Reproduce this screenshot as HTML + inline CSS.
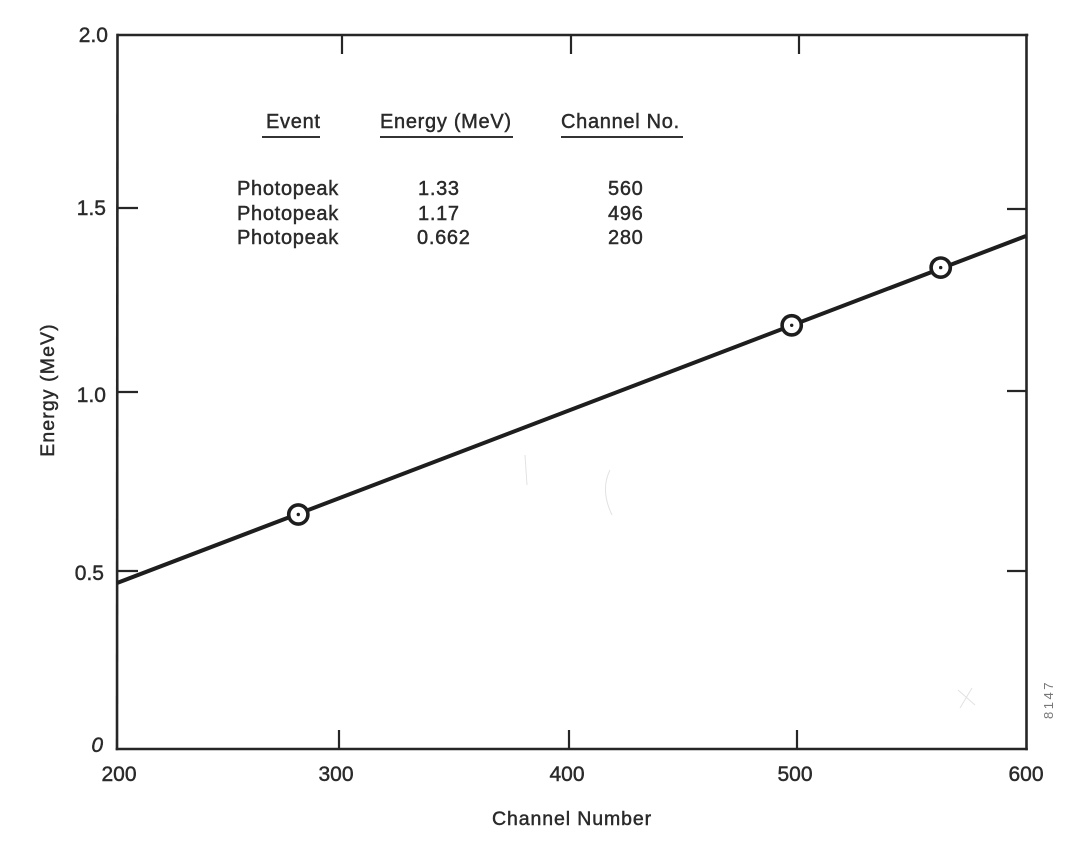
<!DOCTYPE html>
<html>
<head>
<meta charset="utf-8">
<style>
  html, body { margin: 0; padding: 0; background: #ffffff; }
  svg { display: block; }
  text { font-family: "Liberation Sans", "DejaVu Sans", sans-serif; fill: #2a2a2a; stroke: #2a2a2a; stroke-width: 0.45px; }
</style>
</head>
<body>
<svg width="1090" height="841" viewBox="0 0 1090 841" xmlns="http://www.w3.org/2000/svg">
  <rect x="0" y="0" width="1090" height="841" fill="#ffffff"/>

  <!-- Frame -->
  <g stroke="#262626" stroke-width="2.6" fill="none" stroke-linecap="square">
    <line x1="118" y1="35" x2="1027" y2="35"/>
    <line x1="1026.5" y1="35" x2="1026.5" y2="749"/>
    <line x1="117" y1="749" x2="1026.5" y2="749"/>
    <line x1="117.5" y1="35" x2="117" y2="749"/>
  </g>

  <!-- Ticks -->
  <g stroke="#262626" stroke-width="2.2" fill="none">
    <line x1="342" y1="35" x2="342" y2="54"/>
    <line x1="571" y1="35" x2="571" y2="54"/>
    <line x1="799" y1="35" x2="799" y2="54"/>
    <line x1="339" y1="749" x2="339" y2="730"/>
    <line x1="569" y1="749" x2="569" y2="730"/>
    <line x1="797" y1="749" x2="797" y2="730"/>
    <line x1="117" y1="208" x2="138" y2="208"/>
    <line x1="117" y1="392" x2="138" y2="392"/>
    <line x1="117" y1="571" x2="138" y2="571"/>
    <line x1="1026" y1="209" x2="1007" y2="209"/>
    <line x1="1026" y1="391" x2="1007" y2="391"/>
    <line x1="1026" y1="571" x2="1007" y2="571"/>
  </g>

  <!-- Fit line -->
  <line x1="117" y1="583" x2="1026" y2="236" stroke="#1e1e1e" stroke-width="4"/>

  <!-- Data points -->
  <g stroke="#1e1e1e" stroke-width="3.6" fill="#ffffff">
    <circle cx="298.3" cy="514.5" r="9.6"/>
    <circle cx="791.7" cy="325.3" r="9.6"/>
    <circle cx="940.7" cy="267.6" r="9.6"/>
  </g>
  <g fill="#1e1e1e">
    <circle cx="298.3" cy="514.5" r="1.7"/>
    <circle cx="791.7" cy="325.3" r="1.7"/>
    <circle cx="940.7" cy="267.6" r="1.7"/>
  </g>

  <!-- Y tick labels -->
  <g font-size="21" text-anchor="end">
    <text x="108" y="42">2.0</text>
    <text x="106" y="215">1.5</text>
    <text x="106" y="402">1.0</text>
    <text x="104" y="580">0.5</text>
    <text x="103" y="752" font-style="italic">0</text>
  </g>

  <!-- X tick labels -->
  <g font-size="21" text-anchor="middle">
    <text x="119" y="781">200</text>
    <text x="336" y="781">300</text>
    <text x="567" y="781">400</text>
    <text x="795" y="781">500</text>
    <text x="1026" y="781">600</text>
  </g>

  <!-- Axis titles -->
  <text x="572" y="825" font-size="19.5" text-anchor="middle" letter-spacing="0.9">Channel Number</text>
  <text transform="translate(54,390) rotate(-90)" font-size="19.5" text-anchor="middle" letter-spacing="1.1">Energy (MeV)</text>

  <!-- Table -->
  <g font-size="20" letter-spacing="0.7">
    <text x="266" y="128">Event</text>
    <text x="380" y="128">Energy (MeV)</text>
    <text x="561" y="128">Channel No.</text>

    <text x="237" y="195">Photopeak</text>
    <text x="237" y="220">Photopeak</text>
    <text x="237" y="244">Photopeak</text>

    <text x="418" y="195">1.33</text>
    <text x="418" y="220">1.17</text>
    <text x="417" y="244">0.662</text>

    <text x="608" y="195">560</text>
    <text x="608" y="220">496</text>
    <text x="608" y="244">280</text>
  </g>
  <g stroke="#333" stroke-width="2" fill="none">
    <line x1="262" y1="137" x2="320" y2="137"/>
    <line x1="380" y1="137" x2="513" y2="137"/>
    <line x1="561" y1="137" x2="683" y2="137"/>
  </g>

  <!-- Figure number -->
  <text transform="translate(1053,719) rotate(-90)" font-size="13" letter-spacing="2.5" style="fill:#777;stroke:none">8147</text>

  <!-- Faint pencil marks -->
  <g stroke="#e2e2e2" stroke-width="1" fill="none">
    <path d="M610 470 Q600 490 612 515"/>
    <path d="M525 455 L527 485"/>
    <path d="M958 690 L975 705 M972 688 L960 708"/>
  </g>
</svg>
</body>
</html>
